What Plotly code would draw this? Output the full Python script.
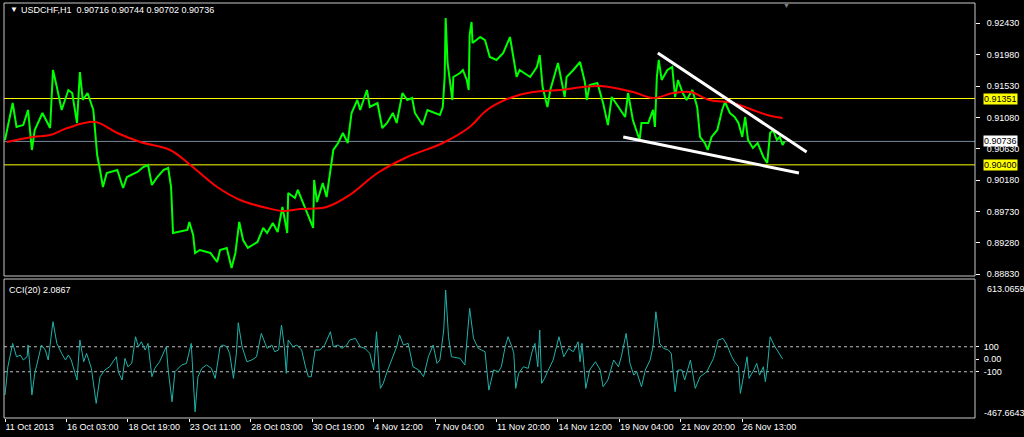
import plotly.graph_objects as go

# ---------------- data (x = H1 bar index from 11 Oct 2013) ----------------
time_tick_bars = [0, 64, 128, 192, 256, 320, 384, 448, 512, 576, 640, 704, 768]
time_tick_labels = ["11 Oct 2013", "16 Oct 03:00", "18 Oct 19:00", "23 Oct 11:00",
                    "28 Oct 03:00", "30 Oct 19:00", "4 Nov 12:00", "7 Nov 04:00",
                    "11 Nov 20:00", "14 Nov 12:00", "19 Nov 04:00", "21 Nov 20:00",
                    "26 Nov 13:00"]

price_ticks = [0.92430, 0.91980, 0.91530, 0.91080, 0.90630, 0.90180, 0.89730, 0.89280, 0.88830]

close_points = [
    (0, 0.90756), (8, 0.91287), (12, 0.90943), (19, 0.90971), (24, 0.91187), (28, 0.90613),
    (31, 0.90900), (39, 0.91144), (47, 0.90929), (50, 0.91760), (54, 0.91516), (59, 0.91187),
    (66, 0.91473), (70, 0.91430), (75, 0.91000), (78, 0.91731), (81, 0.91330), (86, 0.91430),
    (92, 0.91187), (96, 0.90541), (99, 0.90326), (102, 0.90082), (106, 0.90283), (117, 0.90326),
    (123, 0.90068), (127, 0.90226), (138, 0.90298), (144, 0.90369), (149, 0.90398), (153, 0.90111),
    (158, 0.90212), (165, 0.90326), (170, 0.90355), (173, 0.90082), (175, 0.89423), (179, 0.89437),
    (190, 0.89466), (192, 0.89581), (196, 0.89394), (198, 0.89136), (203, 0.89179), (214, 0.89136),
    (221, 0.89007), (224, 0.89179), (231, 0.89208), (236, 0.88921), (240, 0.89136), (244, 0.89581),
    (248, 0.89322), (253, 0.89208), (263, 0.89294), (269, 0.89495), (273, 0.89423), (279, 0.89566),
    (284, 0.89437), (289, 0.89796), (294, 0.89423), (295, 0.89997), (302, 0.89925), (305, 0.90040),
    (315, 0.89710), (321, 0.89495), (322, 0.90183), (325, 0.89867), (331, 0.90140), (335, 0.89939),
    (339, 0.90326), (342, 0.90613), (347, 0.90713), (352, 0.90857), (357, 0.90713), (361, 0.91144),
    (367, 0.91330), (370, 0.91187), (377, 0.91473), (380, 0.91230), (388, 0.91287), (393, 0.90929),
    (398, 0.91000), (404, 0.91144), (408, 0.91000), (414, 0.91430), (419, 0.91330), (424, 0.91359),
    (427, 0.91144), (435, 0.90971), (440, 0.91187), (446, 0.91158), (453, 0.91115), (456, 0.91230),
    (458, 0.91660), (459, 0.92506), (461, 0.91861), (466, 0.91330), (467, 0.91660), (474, 0.91717),
    (477, 0.91760), (481, 0.91617), (483, 0.91473), (484, 0.92262), (486, 0.92449), (487, 0.92147),
    (495, 0.92233), (500, 0.92190), (505, 0.91947), (512, 0.91904), (519, 0.92004), (526, 0.92233),
    (529, 0.92004), (533, 0.91660), (536, 0.91760), (547, 0.91660), (554, 0.91803), (557, 0.91975),
    (560, 0.91516), (565, 0.91230), (568, 0.91473), (576, 0.91861), (583, 0.91373), (585, 0.91660),
    (592, 0.91760), (599, 0.91875), (604, 0.91588), (606, 0.91330), (609, 0.91545), (617, 0.91574),
    (623, 0.91287), (628, 0.90971), (632, 0.91373), (641, 0.91187), (646, 0.91086), (649, 0.91430),
    (654, 0.91043), (661, 0.90756), (663, 0.91000), (670, 0.91000), (675, 0.91187), (677, 0.90943),
    (679, 0.91660), (681, 0.91904), (684, 0.91617), (690, 0.91760), (695, 0.91803), (698, 0.91373),
    (701, 0.91617), (706, 0.91430), (710, 0.91330), (716, 0.91473), (721, 0.91230), (724, 0.90800),
    (729, 0.90713), (732, 0.90613), (736, 0.90800), (742, 0.90900), (747, 0.91187), (750, 0.91301),
    (755, 0.91144), (760, 0.91086), (764, 0.91000), (768, 0.90800), (771, 0.91086), (774, 0.90756),
    (779, 0.90642), (784, 0.90713), (790, 0.90513), (794, 0.90427), (797, 0.90857), (800, 0.90900),
    (804, 0.90756), (807, 0.90800), (810, 0.90685), (812, 0.90736),
]

ma_points = [
    (2, 0.90727), (29, 0.90799), (47, 0.90828), (65, 0.90928), (94, 0.91015), (117, 0.90857),
    (141, 0.90727), (172, 0.90613), (193, 0.90398), (221, 0.90082), (245, 0.89896), (273, 0.89781),
    (290, 0.89738), (307, 0.89767), (335, 0.89796), (359, 0.89968), (388, 0.90283), (419, 0.90513),
    (456, 0.90713), (484, 0.90943), (502, 0.91187), (526, 0.91359), (550, 0.91445), (578, 0.91473),
    (602, 0.91516), (620, 0.91531), (654, 0.91445), (675, 0.91359), (696, 0.91430), (714, 0.91445),
    (734, 0.91330), (758, 0.91287), (779, 0.91187), (794, 0.91115), (810, 0.91072),
]

cci_points = [
    (0, -286), (3, -60), (8, 127), (12, 20), (16, 33), (19, -6), (23, 20), (24, 114), (26, -60),
    (28, -286), (31, -113), (35, 20), (38, 114), (42, 74), (45, -6), (50, 300), (54, 127), (59, 47),
    (63, -6), (66, 34), (69, -6), (73, -113), (75, -166), (78, 154), (82, -20), (85, 47), (87, -6),
    (90, -73), (95, -353), (99, -140), (104, -86), (109, -60), (116, 20), (118, -100), (122, -166),
    (125, 7), (128, -60), (132, -33), (136, 180), (139, 100), (142, 140), (146, 74), (149, 127),
    (153, -140), (156, -73), (161, -20), (168, 100), (170, -86), (174, -340), (177, -100), (184, -46),
    (189, -33), (194, 127), (196, -166), (198, -420), (201, -140), (205, -73), (210, -46), (215, -73),
    (219, -153), (224, 100), (227, 114), (231, 100), (234, 47), (238, -153), (241, 47), (243, 292),
    (247, 100), (252, -20), (257, -6), (262, 20), (267, 207), (273, 87), (278, 114), (281, 60),
    (285, 74), (288, 274), (291, 100), (293, -113), (295, 154), (300, 100), (304, 114), (309, 74),
    (313, -60), (316, -140), (319, -140), (323, 74), (328, 74), (333, 114), (339, 220), (342, 100),
    (347, 114), (351, 87), (356, 114), (359, 154), (365, 167), (370, 100), (375, 87), (380, 47),
    (384, -86), (387, 220), (391, -233), (394, -193), (398, -100), (403, -6), (408, 100), (411, 194),
    (415, 114), (420, 127), (425, -60), (431, -86), (436, -140), (441, 20), (446, 114), (450, -33),
    (453, -6), (457, 234), (459, 554), (462, 180), (465, 20), (474, 7), (479, -46), (484, 407),
    (488, 167), (493, 87), (500, 60), (504, -247), (509, -86), (514, -100), (517, -60), (521, 100),
    (524, 180), (528, 100), (530, 47), (532, -233), (535, -113), (540, -60), (545, -73), (549, 60),
    (552, 127), (555, -60), (557, 234), (559, -193), (562, -153), (566, -86), (571, -6), (577, 180),
    (582, 20), (587, 87), (592, 60), (597, 140), (599, -20), (601, 127), (605, -233), (609, -86),
    (615, -20), (620, -86), (623, -220), (628, -166), (634, -6), (639, -60), (642, 20), (647, 207),
    (651, -33), (655, -127), (658, -100), (663, -220), (667, -86), (672, -6), (675, 100), (678, 380),
    (682, 127), (686, 87), (691, 74), (694, 47), (698, -260), (701, -86), (705, -86), (708, -166),
    (714, -6), (719, -233), (724, -140), (731, -100), (738, 7), (743, 154), (748, 167), (752, 114),
    (757, 20), (760, -20), (764, -60), (766, -273), (769, -140), (773, 20), (775, -153), (780, -86),
    (783, -33), (786, -127), (790, -60), (792, -180), (794, -73), (797, 180), (801, 114), (804, 74),
    (807, 34), (810, 2.0867),
]

upper_trend = [(680, 0.92004), (835, 0.90585)]
lower_trend = [(644, 0.90800), (827, 0.90283)]

support_resistance = [0.91351, 0.90400]
bid_price = 0.90736
cci_levels = [100, -100]
cci_max, cci_min = 613.0659, -467.6643
ohlc_text = "USDCHF,H1\u00a0\u00a00.90716 0.90744 0.90702 0.90736"
cci_text = "CCI(20) 2.0867"

# ---------------- layout helpers (pixel -> paper) ----------------
L, R, T, B = 4, 975, 3, 418
W, H = 1024, 437
def px(x):
    return (x - L) / (R - L)
def py(y):
    return (B - y) / (B - T)

FONT = "Liberation Sans, Arial, sans-serif"
FS = 9

main_dom = [py(276), 1.0]
cci_dom = [0.0, py(279)]

fig = go.Figure()

cx, cy = zip(*close_points)
fig.add_trace(go.Scatter(x=cx, y=cy, mode="lines", line=dict(color="#00FF00", width=2),
                         xaxis="x", yaxis="y", hoverinfo="skip"))
mx, my = zip(*ma_points)
fig.add_trace(go.Scatter(x=mx, y=my, mode="lines", line=dict(color="#FF0000", width=2, shape="spline"),
                         xaxis="x", yaxis="y", hoverinfo="skip"))
for tl in (upper_trend, lower_trend):
    tx, ty = zip(*tl)
    fig.add_trace(go.Scatter(x=tx, y=ty, mode="lines", line=dict(color="#FFFFFF", width=3),
                             xaxis="x", yaxis="y", hoverinfo="skip"))
qx, qy = zip(*cci_points)
fig.add_trace(go.Scatter(x=qx, y=qy, mode="lines", line=dict(color="#20B2AA", width=1),
                         xaxis="x2", yaxis="y2", hoverinfo="skip"))

shapes = []
for lvl in support_resistance:
    shapes.append(dict(type="line", xref="paper", yref="y", x0=0, x1=1, y0=lvl, y1=lvl,
                       line=dict(color="#FFFF00", width=1), layer="below"))
shapes.append(dict(type="line", xref="paper", yref="y", x0=0, x1=1, y0=bid_price, y1=bid_price,
                   line=dict(color="#778899", width=1), layer="below"))
for lvl in cci_levels:
    shapes.append(dict(type="line", xref="paper", yref="y2", x0=0, x1=1, y0=lvl, y1=lvl,
                       line=dict(color="#C0C0C0", width=1, dash="3px,3px"), layer="below"))
# panel frames
shapes.append(dict(type="rect", xref="paper", yref="paper", x0=0, x1=1, y0=main_dom[0], y1=main_dom[1],
                   line=dict(color="#C8C8C8", width=1)))
shapes.append(dict(type="rect", xref="paper", yref="paper", x0=0, x1=1, y0=cci_dom[0], y1=cci_dom[1],
                   line=dict(color="#C8C8C8", width=1)))

ann = []
ann.append(dict(xref="paper", yref="paper", x=px(8), y=py(10), xanchor="left", yanchor="middle",
                text="\u25BC", showarrow=False, font=dict(family=FONT, size=8, color="#FFFFFF")))
ann.append(dict(xref="paper", yref="paper", x=px(19), y=py(10), xanchor="left", yanchor="middle",
                text=ohlc_text, showarrow=False, font=dict(family=FONT, size=FS, color="#FFFFFF")))
ann.append(dict(xref="paper", yref="paper", x=px(7), y=py(290), xanchor="left", yanchor="middle",
                text=cci_text, showarrow=False, font=dict(family=FONT, size=FS, color="#FFFFFF")))
ann.append(dict(xref="paper", yref="paper", x=px(786), y=py(5), xanchor="center", yanchor="middle",
                text="\u25BC", showarrow=False, font=dict(family=FONT, size=7, color="#808080")))
for lvl in support_resistance:
    ann.append(dict(xref="paper", yref="y", x=px(983), y=lvl, xanchor="left", yanchor="middle",
                    text=f"{lvl:.5f}", showarrow=False, bgcolor="#FFFF00", borderpad=0,
                    font=dict(family=FONT, size=FS, color="#000000")))
ann.append(dict(xref="paper", yref="y", x=px(983), y=bid_price, xanchor="left", yanchor="middle",
                text=f"{bid_price:.5f}", showarrow=False, bgcolor="#FFFFFF", borderpad=0,
                font=dict(family=FONT, size=FS, color="#000000")))
ann.append(dict(xref="paper", yref="paper", x=px(985), y=py(289), xanchor="left", yanchor="middle",
                text=f"{cci_max:.4f}", showarrow=False, font=dict(family=FONT, size=FS, color="#FFFFFF")))
ann.append(dict(xref="paper", yref="paper", x=px(982), y=py(413), xanchor="left", yanchor="middle",
                text=f"{cci_min:.4f}", showarrow=False, font=dict(family=FONT, size=FS, color="#FFFFFF")))

xr = [-1.04, 1010.4]
price_rng = [0.88806, 0.92721]
cci_rng = [-470.0, 642.0]

fig.update_layout(
    width=W, height=H,
    margin=dict(l=L, r=W - R, t=T, b=H - B, pad=0, autoexpand=False),
    paper_bgcolor="#000000", plot_bgcolor="#000000",
    showlegend=False,
    font=dict(family=FONT, size=FS, color="#FFFFFF"),
    xaxis=dict(domain=[0, 1], range=xr, anchor="y", showticklabels=False, showgrid=False,
               zeroline=False, showline=False, ticks=""),
    xaxis2=dict(domain=[0, 1], range=xr, anchor="y2", showgrid=False, zeroline=False, showline=False,
                tickmode="array", tickvals=time_tick_bars, ticktext=time_tick_labels,
                ticks="outside", ticklen=3, tickcolor="#FFFFFF", tickwidth=1, tickangle=0,
                ticklabelposition="outside right", automargin=False,
                tickfont=dict(family=FONT, size=FS, color="#FFFFFF")),
    yaxis=dict(domain=main_dom, range=price_rng, side="right", anchor="x", showgrid=False,
               zeroline=False, showline=False, tickmode="array", tickvals=price_ticks,
               ticktext=[f"{v:.5f}" for v in price_ticks], ticks="outside", ticklen=4,
               tickcolor="#FFFFFF", ticklabelstandoff=5, automargin=False,
               tickfont=dict(family=FONT, size=FS, color="#FFFFFF")),
    yaxis2=dict(domain=cci_dom, range=cci_rng, side="right", anchor="x2", showgrid=False,
                zeroline=False, showline=False, tickmode="array", tickvals=[100, 0, -100],
                ticktext=["100", "0.00", "-100"], ticks="outside", ticklen=3,
                tickcolor="#FFFFFF", ticklabelstandoff=3, automargin=False,
                tickfont=dict(family=FONT, size=FS, color="#FFFFFF")),
    shapes=shapes,
    annotations=ann,
)

fig.write_html("out.html", config={"displayModeBar": False})

# remove default page margins/scrollbars so the figure sits at the window's top-left
with open("out.html", "r", encoding="utf-8") as f:
    html = f.read()
html = html.replace("<head>", "<head><style>html,body{margin:0;padding:0;overflow:hidden;background:#000;}</style>", 1)
with open("out.html", "w", encoding="utf-8") as f:
    f.write(html)
